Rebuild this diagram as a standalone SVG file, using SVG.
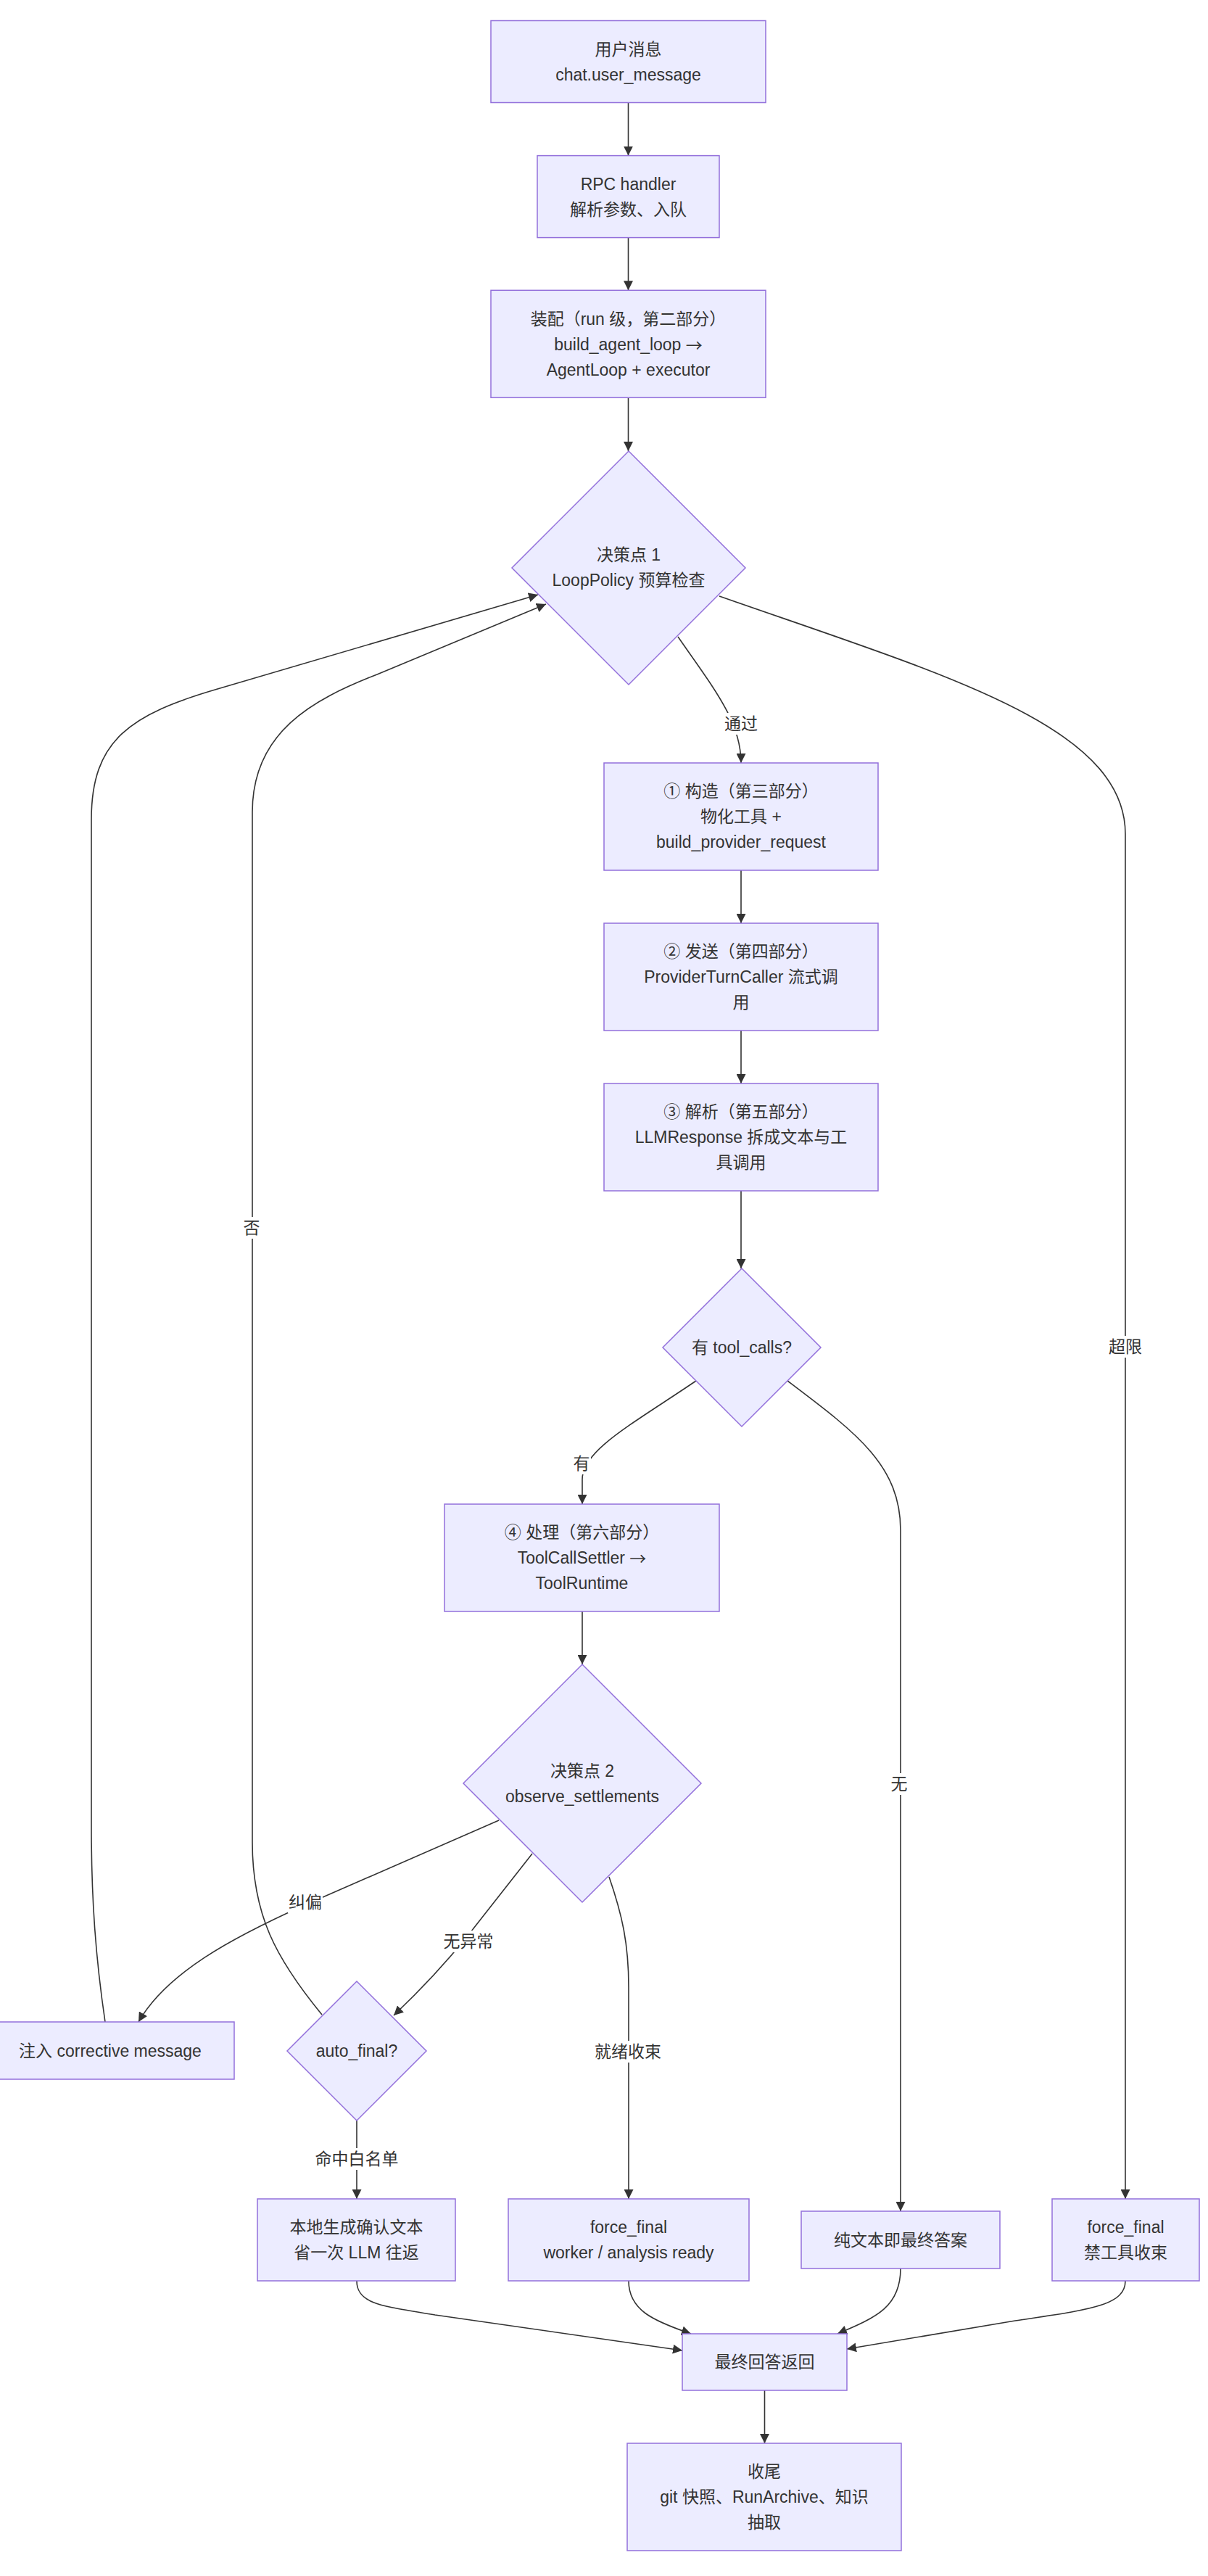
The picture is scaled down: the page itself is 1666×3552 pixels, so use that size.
<svg xmlns="http://www.w3.org/2000/svg" width="1666" height="3552" viewBox="0 0 1666 3552">
<style>
.bg{fill:#ffffff}
.n{fill:#ECECFF;stroke:#9370DB;stroke-width:1.5}
.e{fill:none;stroke:#333333;stroke-width:1.6;marker-end:url(#arr)}
.t{font-family:"Liberation Sans","Noto Sans CJK SC",sans-serif;font-size:23px;fill:#333333;text-anchor:middle;dominant-baseline:central}
.cjk{font-family:"Noto Sans CJK SC",sans-serif}
.lb{fill:#ffffff}
</style>
<defs>
<marker id="arr" viewBox="0 0 10 10" refX="10" refY="5" markerUnits="userSpaceOnUse" markerWidth="13" markerHeight="13" orient="auto">
<path d="M0,0 L10,5 L0,10 z" fill="#333333"/>
</marker>
</defs>
<rect class="bg" x="0" y="0" width="1666" height="3552"/>

<g id="connectors">
<path class="e" d="M866.5,141.7 L866.5,214.6"/>
<path class="e" d="M866.5,327.8 L866.5,400.3"/>
<path class="e" d="M866.5,548.3 L866.5,622"/>
<path class="e" d="M935,878 C985,950 1022,995 1022,1052"/>
<path class="e" d="M992,822 C1300,930 1552,1000 1552,1150 L1552,3032"/>
<path class="e" d="M1022,1200 L1022,1273"/>
<path class="e" d="M1022,1421 L1022,1494"/>
<path class="e" d="M1022,1642 L1022,1749"/>
<path class="e" d="M960,1904 C870,1965 803,2000 803,2040 L803,2074"/>
<path class="e" d="M1086,1904 C1180,1975 1242,2020 1242,2110 L1242,3049"/>
<path class="e" d="M803,2222 L803,2295"/>
<path class="e" d="M688,2510 L420,2627 C320,2672 230,2720 191,2788"/>
<path class="e" d="M734,2556 L646,2668 Q600,2725 543,2779"/>
<path class="e" d="M840,2588 C858,2640 867,2680 867,2740 L867,3032"/>
<path class="e" d="M444,2778 C380,2700 348,2640 348,2540 L348,1120 C348,1010 430,965 520,930 L753,833"/>
<path class="e" d="M145,2788 C132,2700 126,2620 126,2520 L126,1130 C126,1020 180,985 300,950 L742,820"/>
<path class="e" d="M492,2924 L492,3032"/>
<path class="e" d="M492,3145 C492,3178 530,3180 600,3192 L941,3241"/>
<path class="e" d="M867,3145 C867,3185 900,3200 953,3218"/>
<path class="e" d="M1242,3128 C1242,3180 1210,3195 1155,3218"/>
<path class="e" d="M1552,3145 C1552,3180 1500,3185 1400,3200 L1168,3239"/>
<path class="e" d="M1054.5,3296 L1054.5,3369"/>
</g>

<g id="edge-labels">
<g id="lbl-pass"><rect class="lb" x="998" y="983" width="48" height="30"/><text class="t" x="1022" y="998">通过</text></g>
<g id="lbl-over"><rect class="lb" x="1528" y="1842" width="48" height="30"/><text class="t" x="1552" y="1857">超限</text></g>
<g id="lbl-yes"><rect class="lb" x="789" y="2003" width="26" height="30"/><text class="t" x="802" y="2018">有</text></g>
<g id="lbl-none"><rect class="lb" x="1227" y="2445" width="26" height="30"/><text class="t" x="1240" y="2460">无</text></g>
<g id="lbl-no"><rect class="lb" x="334" y="1678" width="26" height="30"/><text class="t" x="347" y="1693">否</text></g>
<g id="lbl-correct"><rect class="lb" x="397" y="2608" width="48" height="30"/><text class="t" x="421" y="2623">纠偏</text></g>
<g id="lbl-normal"><rect class="lb" x="610" y="2662" width="72" height="30"/><text class="t" x="646" y="2677">无异常</text></g>
<g id="lbl-ready"><rect class="lb" x="819" y="2814" width="94" height="30"/><text class="t" x="866" y="2829">就绪收束</text></g>
<g id="lbl-white"><rect class="lb" x="434" y="2962" width="116" height="30"/><text class="t" x="492" y="2977">命中白名单</text></g>
</g>

<g id="n-user">
<rect class="n" x="677" y="28.5" width="379" height="113"/>
<text class="t" x="866.5" y="67.5">用户消息</text>
<text class="t" x="866.5" y="102.5">chat.user_message</text>
</g>
<g id="n-rpc">
<rect class="n" x="741" y="214.6" width="251" height="113"/>
<text class="t" x="866.5" y="253.5">RPC handler</text>
<text class="t" x="866.5" y="288.5">解析参数、入队</text>
</g>
<g id="n-assemble">
<rect class="n" x="677" y="400.3" width="379" height="148"/>
<text class="t" x="866.5" y="439.5">装配（run 级，第二部分）</text>
<text class="t" x="866.5" y="474.5">build_agent_loop <tspan class="cjk">→</tspan></text>
<text class="t" x="866.5" y="509.5">AgentLoop + executor</text>
</g>
<g id="n-d1">
<polygon class="n" points="867,622 1028,783 867,944 706,783"/>
<text class="t" x="867" y="765">决策点 1</text>
<text class="t" x="867" y="800">LoopPolicy 预算检查</text>
</g>
<g id="n-build">
<rect class="n" x="833" y="1052" width="378" height="148"/>
<text class="t" x="1022" y="1091">① 构造（第三部分）</text>
<text class="t" x="1022" y="1126">物化工具 +</text>
<text class="t" x="1022" y="1161">build_provider_request</text>
</g>
<g id="n-send">
<rect class="n" x="833" y="1273" width="378" height="148"/>
<text class="t" x="1022" y="1312">② 发送（第四部分）</text>
<text class="t" x="1022" y="1347">ProviderTurnCaller 流式调</text>
<text class="t" x="1022" y="1382">用</text>
</g>
<g id="n-parse">
<rect class="n" x="833" y="1494" width="378" height="148"/>
<text class="t" x="1022" y="1533">③ 解析（第五部分）</text>
<text class="t" x="1022" y="1568">LLMResponse 拆成文本与工</text>
<text class="t" x="1022" y="1603">具调用</text>
</g>
<g id="n-tc">
<polygon class="n" points="1023,1749 1132,1858 1023,1967 914,1858"/>
<text class="t" x="1023" y="1858">有 tool_calls?</text>
</g>
<g id="n-handle">
<rect class="n" x="613" y="2074" width="379" height="148"/>
<text class="t" x="802.5" y="2113">④ 处理（第六部分）</text>
<text class="t" x="802.5" y="2148">ToolCallSettler <tspan class="cjk">→</tspan></text>
<text class="t" x="802.5" y="2183">ToolRuntime</text>
</g>
<g id="n-d2">
<polygon class="n" points="803,2295 967,2459 803,2623 639,2459"/>
<text class="t" x="803" y="2442">决策点 2</text>
<text class="t" x="803" y="2477">observe_settlements</text>
</g>
<g id="n-corrective">
<rect class="n" x="-19" y="2788" width="342" height="79"/>
<text class="t" x="152" y="2827.5">注入 corrective message</text>
</g>
<g id="n-auto">
<polygon class="n" points="492,2732 588,2828 492,2924 396,2828"/>
<text class="t" x="492" y="2828">auto_final?</text>
</g>
<g id="n-local">
<rect class="n" x="355" y="3032" width="273" height="113"/>
<text class="t" x="491.5" y="3071">本地生成确认文本</text>
<text class="t" x="491.5" y="3106">省一次 LLM 往返</text>
</g>
<g id="n-ff-worker">
<rect class="n" x="701" y="3032" width="332" height="113"/>
<text class="t" x="867" y="3071">force_final</text>
<text class="t" x="867" y="3106">worker / analysis ready</text>
</g>
<g id="n-plain">
<rect class="n" x="1105" y="3049" width="274" height="79"/>
<text class="t" x="1242" y="3088.5">纯文本即最终答案</text>
</g>
<g id="n-ff-limit">
<rect class="n" x="1451" y="3032" width="203" height="113"/>
<text class="t" x="1552.5" y="3071">force_final</text>
<text class="t" x="1552.5" y="3106">禁工具收束</text>
</g>
<g id="n-final">
<rect class="n" x="941" y="3218" width="227" height="78"/>
<text class="t" x="1054.5" y="3257">最终回答返回</text>
</g>
<g id="n-wrap">
<rect class="n" x="865" y="3369" width="378" height="148"/>
<text class="t" x="1054" y="3408">收尾</text>
<text class="t" x="1054" y="3443">git 快照、RunArchive、知识</text>
<text class="t" x="1054" y="3478">抽取</text>
</g>
</svg>
